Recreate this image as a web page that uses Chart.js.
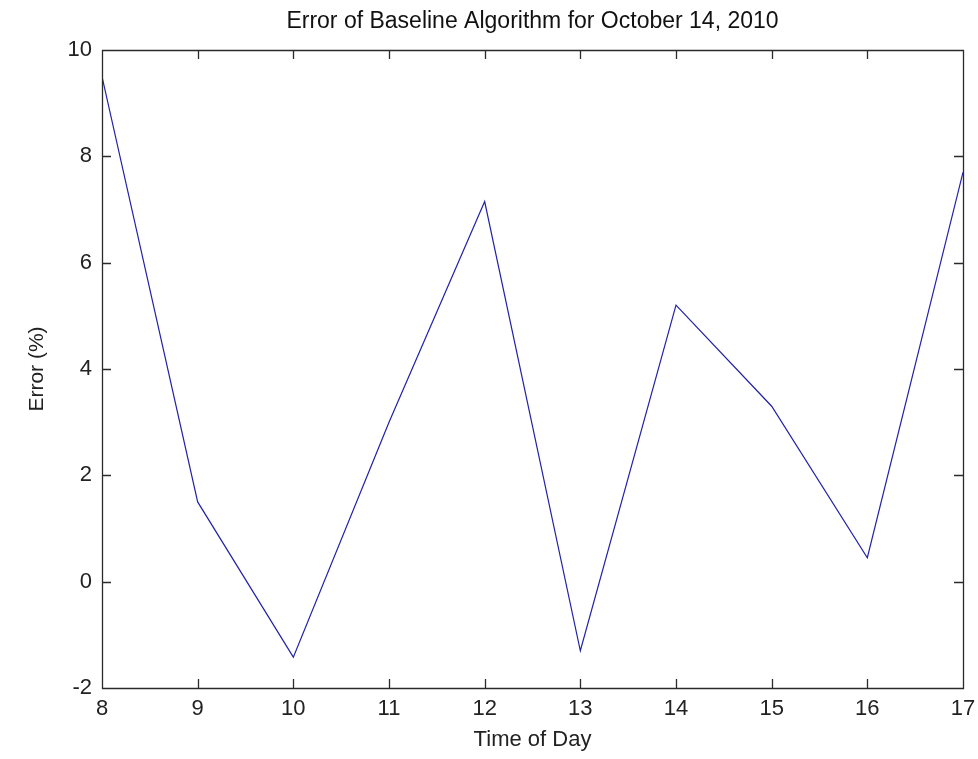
<!DOCTYPE html>
<html>
<head>
<meta charset="utf-8">
<script src="https://cdn.jsdelivr.net/npm/chart.js@4"></script>
<style>
  body { margin: 0; background: #fff; }
  #wrap { width: 978px; height: 759px; }
</style>
</head>
<body>
<div id="wrap"><canvas id="errChart" width="978" height="759"></canvas></div>
<script>
// Data
const hours = [8, 9, 10, 11, 12, 13, 14, 15, 16, 17];
const errorPct = [9.5, 1.5, -1.42, 3.0, 7.15, -1.3, 5.2, 3.3, 0.45, 7.7];
const xTicks = [8, 9, 10, 11, 12, 13, 14, 15, 16, 17];
const yTicks = [-2, 0, 2, 4, 6, 8, 10];

const FONT = 'Arial, "Liberation Sans", sans-serif';

// MATLAB-style box with inward ticks on all four sides
const boxTicks = {
  id: 'boxTicks',
  afterDraw(chart) {
    const { ctx, chartArea: a, scales } = chart;
    const len = 9;
    ctx.save();
    ctx.strokeStyle = '#2a2a2a';
    ctx.lineWidth = 1.3;
    ctx.beginPath();
    ctx.rect(Math.round(a.left) + 0.5, Math.round(a.top) + 0.5,
             Math.round(a.right - a.left), Math.round(a.bottom - a.top));
    xTicks.forEach(v => {
      const x = Math.round(scales.x.getPixelForValue(v)) + 0.5;
      ctx.moveTo(x, a.bottom); ctx.lineTo(x, a.bottom - len);
      ctx.moveTo(x, a.top); ctx.lineTo(x, a.top + len);
    });
    yTicks.forEach(v => {
      const y = Math.round(scales.y.getPixelForValue(v)) + 0.5;
      ctx.moveTo(a.left, y); ctx.lineTo(a.left + len, y);
      ctx.moveTo(a.right, y); ctx.lineTo(a.right - len, y);
    });
    ctx.stroke();
    ctx.restore();
  }
};

new Chart(document.getElementById('errChart'), {
  type: 'line',
  data: {
    datasets: [{
      data: hours.map((h, i) => ({ x: h, y: errorPct[i] })),
      borderColor: '#2222a8',
      borderWidth: 1.2,
      pointRadius: 0,
      tension: 0,
      fill: false
    }]
  },
  options: {
    responsive: false,
    animation: false,
    layout: { padding: { left: 0, right: 15, top: 0, bottom: 0 } },
    plugins: {
      legend: { display: false },
      tooltip: { enabled: false },
      title: {
        display: true,
        fullSize: false,
        text: 'Error of Baseline Algorithm for October 14, 2010',
        color: '#111',
        font: { family: FONT, size: 23, weight: 'normal' },
        padding: { top: 8, bottom: 14.4 }
      }
    },
    scales: {
      x: {
        type: 'linear',
        min: 8, max: 17,
        afterBuildTicks: s => { s.ticks = xTicks.map(v => ({ value: v })); },
        afterFit: s => { s.height = 71; s.paddingLeft = 0; s.paddingRight = 0; },
        grid: { display: false, drawTicks: false },
        border: { display: false },
        ticks: { color: '#222', padding: 8, font: { family: FONT, size: 22 } },
        title: {
          display: true, text: 'Time of Day', color: '#222',
          font: { family: FONT, size: 22 }, padding: { top: 2, bottom: 5.8 }
        }
      },
      y: {
        min: -2, max: 10,
        afterBuildTicks: s => { s.ticks = yTicks.map(v => ({ value: v })); },
        afterFit: s => { s.width = 102; s.paddingTop = 0; s.paddingBottom = 0; },
        grid: { display: false, drawTicks: false },
        border: { display: false },
        ticks: { color: '#222', padding: 10, font: { family: FONT, size: 22 } },
        title: {
          display: true, text: 'Error (%)', color: '#222',
          font: { family: FONT, size: 21 }, padding: { top: 25, bottom: 0 }
        }
      }
    }
  },
  plugins: [boxTicks]
});
</script>
</body>
</html>
